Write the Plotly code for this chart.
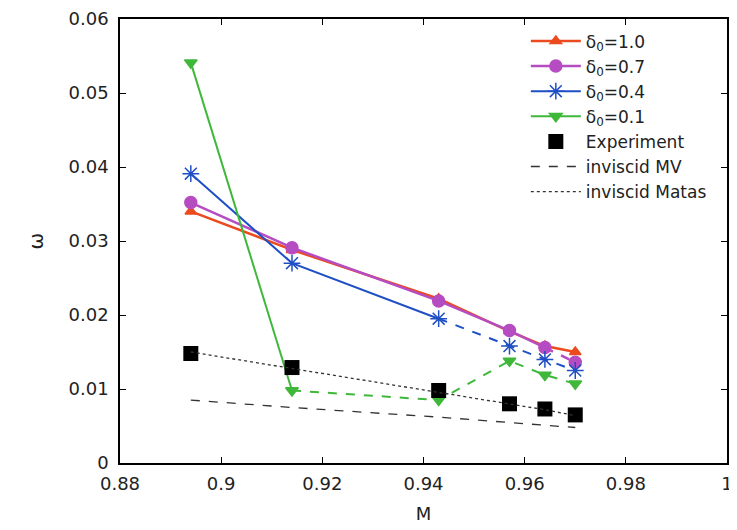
import plotly.graph_objects as go

M = [0.894, 0.914, 0.943, 0.957, 0.964, 0.970]
q10 = [0.0340, 0.0288, 0.0222, 0.0178, 0.0158, 0.0150]
q07 = [0.0352, 0.0291, 0.0219, 0.0179, 0.0156, 0.0136]
q04 = [0.0391, 0.0270, 0.0195, 0.0158, 0.0140, 0.0125]
q01 = [0.0541, 0.0098, 0.0085, 0.0138, 0.0119, 0.0107]
experiment = [0.0148, 0.0129, 0.0098, 0.0080, 0.0073, 0.0065]
inviscid_mv = [0.0085, 0.0075, 0.0062, 0.0054, 0.0051, 0.0048]
inviscid_matas = [0.0150, 0.0128, 0.0096, 0.0080, 0.0072, 0.0064]

x_ticks = [0.88, 0.9, 0.92, 0.94, 0.96, 0.98, 1.0]
x_ticklabels = ["0.88", "0.9", "0.92", "0.94", "0.96", "0.98", "1"]
y_ticks = [0, 0.01, 0.02, 0.03, 0.04, 0.05, 0.06]
y_ticklabels = ["0", "0.01", "0.02", "0.03", "0.04", "0.05", "0.06"]

# number of leading points joined by a solid line (rest dashed)
solid_n = {"q10": 6, "q07": 5, "q04": 3, "q01": 2}

RED = "#ec4a1f"
MAG = "#b64cc2"
BLUE = "#1f4fc4"
GREEN = "#3fb83a"
FONT = "DejaVu Sans, Liberation Sans, Arial"

fig = go.Figure()

def add_series(vals, n_solid, color, symbol, size, name, lw=2):
    xs, ys = M[:n_solid], vals[:n_solid]
    fig.add_trace(go.Scatter(x=xs, y=ys, mode="lines+markers", name=name,
                             line=dict(color=color, width=lw),
                             marker=dict(symbol=symbol, size=size, color=color,
                                         line=dict(color=color, width=1.5))))
    if n_solid < len(M):
        xd, yd = M[n_solid - 1:], vals[n_solid - 1:]
        fig.add_trace(go.Scatter(x=xd, y=yd, mode="lines", showlegend=False,
                                 line=dict(color=color, width=lw, dash="dash"),
                                 hoverinfo="skip"))
        fig.add_trace(go.Scatter(x=M[n_solid:], y=vals[n_solid:], mode="markers",
                                 showlegend=False,
                                 marker=dict(symbol=symbol, size=size, color=color,
                                             line=dict(color=color, width=1.5))))

add_series(q10, solid_n["q10"], RED, "triangle-up", 10, "δ<sub>0</sub>=1.0", lw=2.5)
add_series(q07, solid_n["q07"], MAG, "circle", 12, "δ<sub>0</sub>=0.7", lw=2.5)
add_series(q04, solid_n["q04"], BLUE, "asterisk", 14, "δ<sub>0</sub>=0.4")
add_series(q01, solid_n["q01"], GREEN, "triangle-down", 11, "δ<sub>0</sub>=0.1")

fig.add_trace(go.Scatter(x=M, y=experiment, mode="markers", name="Experiment",
                         marker=dict(symbol="square", size=15, color="black")))
fig.add_trace(go.Scatter(x=M, y=inviscid_mv, mode="lines", name="inviscid MV",
                         line=dict(color="#333333", width=1.3, dash="dash")))
fig.add_trace(go.Scatter(x=M, y=inviscid_matas, mode="lines", name="inviscid Matas",
                         line=dict(color="#333333", width=1.3, dash="dot")))

axis_common = dict(showline=True, linecolor="black", linewidth=1.5, mirror="ticks",
                   ticks="inside", ticklen=6, tickcolor="black", showgrid=False,
                   zeroline=False, automargin=False, ticklabeloverflow="allow",
                   tickfont=dict(family=FONT, size=18, color="#222"))

fig.update_xaxes(range=[0.88, 1.0], tickvals=x_ticks, ticktext=x_ticklabels,
                 ticklabelstandoff=4,
                 title=dict(text="M", font=dict(family=FONT, size=18, color="#222"),
                            standoff=14),
                 **axis_common)
fig.update_yaxes(range=[0, 0.06], tickvals=y_ticks, ticktext=y_ticklabels,
                 ticklabelstandoff=6,
                 title=dict(text="ω", font=dict(family=FONT, size=20, color="#222"),
                            standoff=20),
                 **axis_common)

# page body has an 8px margin, so the figure is sized to fit the window
fig.update_layout(
    width=729, height=522,
    margin=dict(l=112, r=10, t=11, b=67, autoexpand=False),
    plot_bgcolor="white", paper_bgcolor="white",
    showlegend=True,
    legend=dict(x=0.975, y=0.99, xanchor="right", yanchor="top",
                bgcolor="rgba(255,255,255,0)", tracegroupgap=0,
                font=dict(family=FONT, size=17, color="#222"),
                itemwidth=50),
)

fig.write_html("out.html")
